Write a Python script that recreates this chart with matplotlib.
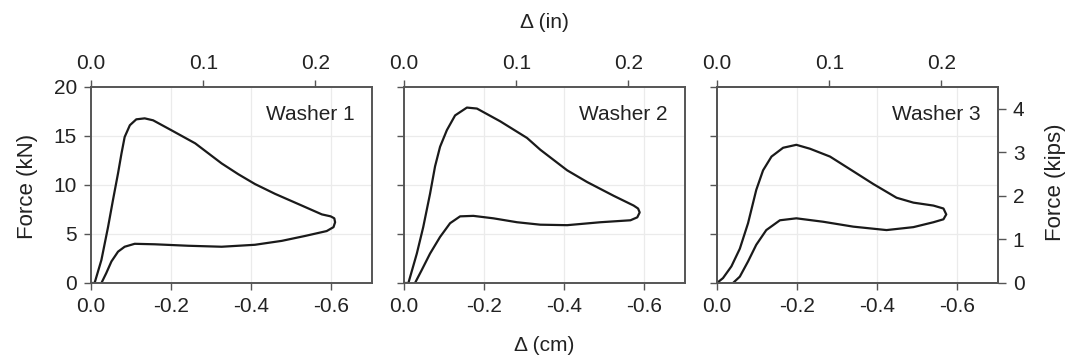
import numpy as np
import matplotlib.pyplot as plt

plt.rcParams['font.family'] = ['Liberation Sans', 'DejaVu Sans']

# washer load-displacement loops: displacement (cm), force (kN)
# loading branch out to the tip, then unloading branch back toward zero
w1_disp = [0.0, -0.009, -0.026, -0.0425, -0.055, -0.0675, -0.076, -0.084, -0.097, -0.113,
           -0.134, -0.155, -0.2, -0.26, -0.326, -0.3675, -0.409, -0.459, -0.526, -0.576,
           -0.598, -0.607, -0.609, -0.605, -0.588, -0.534, -0.476, -0.409, -0.326, -0.2425,
           -0.159, -0.109, -0.084, -0.0675, -0.051, -0.038, -0.026]
w1_force = [0.0, 0.0, 2.35, 5.7, 8.5, 11.2, 13.2, 14.9, 16.1, 16.7,
            16.8, 16.6, 15.6, 14.25, 12.2, 11.1, 10.1, 9.1, 7.9, 7.0,
            6.8, 6.6, 6.2, 5.7, 5.3, 4.8, 4.3, 3.9, 3.7, 3.8,
            3.95, 4.0, 3.7, 3.2, 2.2, 1.0, 0.0]

w2_disp = [0.0, -0.011, -0.032, -0.048, -0.065, -0.0775, -0.09, -0.107, -0.1275, -0.157,
           -0.182, -0.24, -0.307, -0.34, -0.407, -0.457, -0.523, -0.573, -0.584, -0.588,
           -0.582, -0.565, -0.49, -0.407, -0.34, -0.282, -0.223, -0.173, -0.14, -0.115,
           -0.09, -0.065, -0.044, -0.0275]
w2_force = [0.0, 0.0, 3.0, 5.7, 9.1, 11.9, 13.9, 15.6, 17.1, 17.9,
            17.8, 16.5, 14.8, 13.6, 11.5, 10.3, 8.9, 7.9, 7.6, 7.2,
            6.7, 6.4, 6.2, 5.9, 5.95, 6.2, 6.6, 6.85, 6.8, 6.1,
            4.7, 3.0, 1.3, 0.0]

w3_disp = [0.0, -0.015, -0.036, -0.057, -0.0775, -0.098, -0.115, -0.136, -0.165, -0.198,
           -0.232, -0.282, -0.34, -0.39, -0.448, -0.49, -0.54, -0.565, -0.572, -0.565,
           -0.54, -0.49, -0.423, -0.34, -0.265, -0.198, -0.157, -0.123, -0.098, -0.0775,
           -0.057, -0.04]
w3_force = [0.0, 0.5, 1.7, 3.5, 6.1, 9.5, 11.5, 12.9, 13.8, 14.1,
            13.7, 12.9, 11.4, 10.1, 8.7, 8.2, 7.9, 7.6, 7.0, 6.5,
            6.2, 5.7, 5.4, 5.75, 6.25, 6.6, 6.4, 5.4, 3.9, 2.2,
            0.65, 0.0]

names = ['Washer 1', 'Washer 2', 'Washer 3']
disps = [w1_disp, w2_disp, w3_disp]
forces = [w1_force, w2_force, w3_force]

cm_ticks = [0.0, -0.2, -0.4, -0.6]
cm_labels = ['0.0', '-0.2', '-0.4', '-0.6']
in_ticks = [0.0, 0.1, 0.2]
kn_ticks = [0, 5, 10, 15, 20]
kip_ticks = [0, 1, 2, 3, 4]
KN_PER_KIP = 4.448

fig = plt.figure(figsize=(10.73, 3.58), dpi=100)
lefts = [0.0848, 0.3765, 0.6682]
width, bottom, height = 0.2615, 0.2095, 0.5475
frame = '#555555'
fs = 15


def style_spines(a):
    for s in a.spines.values():
        s.set_color(frame)
        s.set_linewidth(1.2)


for i, (name, x, f) in enumerate(zip(names, disps, forces)):
    ax = fig.add_axes([lefts[i], bottom, width, height])
    ax.plot(x, f, color='#1a1a1a', lw=1.6, solid_joinstyle='round')
    ax.set_xlim(0, -0.7)
    ax.set_ylim(0, 20)
    ax.set_xticks(cm_ticks)
    ax.set_xticklabels(cm_labels)
    ax.set_yticks(kn_ticks)
    for v in cm_ticks[1:]:
        ax.axvline(v, color='#ebebeb', lw=0.9, zorder=0)
    for v in kn_ticks[1:-1]:
        ax.axhline(v, color='#ebebeb', lw=0.9, zorder=0)
    ax.tick_params(direction='out', length=5, width=1, color=frame,
                   labelsize=fs, pad=5, labelcolor='#222222')
    if i > 0:
        ax.set_yticklabels([])
    style_spines(ax)
    ax.text(0.94, 0.86, name, transform=ax.transAxes, ha='right', va='center',
            fontsize=fs, color='#222222')

    top = ax.twiny()
    top.set_xlim(0, 0.25)
    top.set_xticks(in_ticks)
    top.set_xticklabels(['%.1f' % t for t in in_ticks])
    top.tick_params(direction='out', length=5, width=1, color=frame,
                    labelsize=fs, pad=5, labelcolor='#222222')
    style_spines(top)

    if i == 2:
        right = ax.twinx()
        right.set_ylim(0, 20 / KN_PER_KIP)
        right.set_yticks(kip_ticks)
        right.tick_params(direction='out', length=6, width=1, color=frame,
                          labelsize=fs, pad=5, labelcolor='#222222')
        style_spines(right)

fig.text(0.507, 0.938, 'Δ (in)', ha='center', va='center', fontsize=fs, color='#222222')
fig.text(0.507, 0.036, 'Δ (cm)', ha='center', va='center', fontsize=fs, color='#222222')
fig.text(0.026, 0.48, 'Force (kN)', rotation=90, ha='center', va='center',
         fontsize=fs + 1, color='#222222')
fig.text(0.984, 0.49, 'Force (kips)', rotation=90, ha='center', va='center',
         fontsize=fs + 1, color='#222222')

fig.savefig('out.png', dpi=100)
